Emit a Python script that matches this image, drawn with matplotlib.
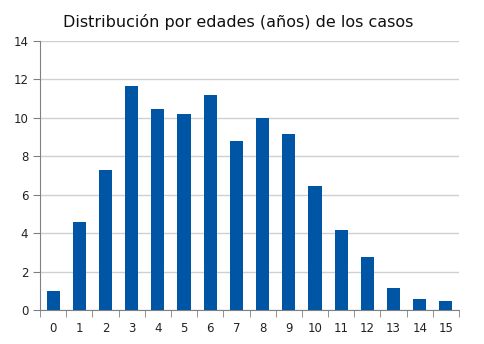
import numpy as np
import matplotlib.pyplot as plt

edades = [str(i) for i in range(16)]
casos = [1.0, 4.58, 7.29, 11.67, 10.47, 10.2, 11.2, 8.8, 10.0, 9.17,
         6.46, 4.17, 2.76, 1.15, 0.57, 0.47]

fig = plt.figure(figsize=(4.84, 3.44), dpi=100)
ax = fig.add_axes([40/484, 34/344, 419/484, 269/344])

x = np.arange(len(edades))
ax.bar(x, casos, width=0.5, color='#0055A5', zorder=3)

ax.set_xlim(-0.5, len(edades) - 0.5)
ax.set_ylim(0, 14)
ax.set_yticks(np.arange(0, 15, 2))
ax.set_xticks(x)
ax.set_xticklabels(edades)
ax.set_xticks(np.arange(-0.5, len(edades), 1), minor=True)
ax.tick_params(axis='x', which='major', length=0, pad=9, labelsize=8.5, colors='#222222')
ax.tick_params(axis='x', which='minor', length=5, color='#808080')
ax.tick_params(axis='y', length=5, color='#808080', labelsize=8.5, colors='#222222')
ax.tick_params(axis='y', color='#808080')

ax.yaxis.grid(True, color='#d0d0d0', lw=1, zorder=0)
for s in ['top', 'right']:
    ax.spines[s].set_visible(False)
for s in ['left', 'bottom']:
    ax.spines[s].set_color('#808080')

fig.text(238/484, 1 - 22/344, 'Distribución por edades (años) de los casos',
         ha='center', va='center', fontsize=11.5, color='#111111')

fig.savefig('out.png', dpi=100)
